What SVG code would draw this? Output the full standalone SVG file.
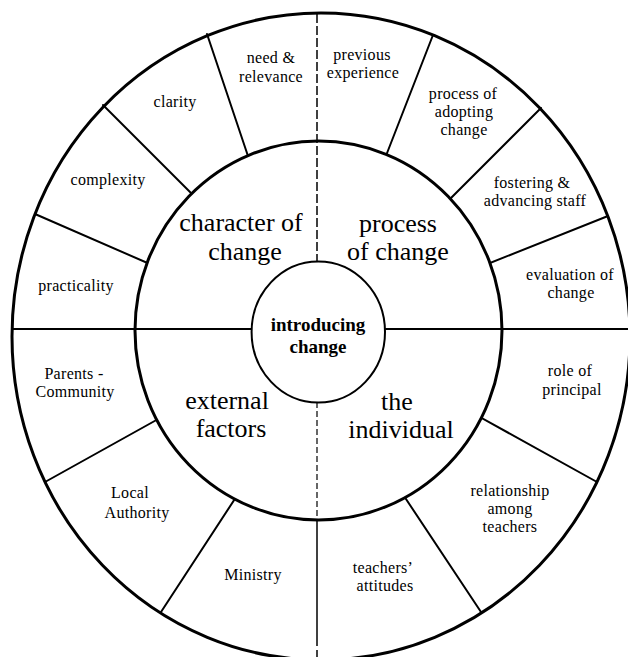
<svg xmlns="http://www.w3.org/2000/svg" width="628" height="657" viewBox="0 0 628 657">
  <style>
    .ring { fill: #fff; stroke: #000; stroke-width: 3; }
    .hub { fill: #fff; stroke: #000; stroke-width: 2; }
    .spoke { stroke: #000; stroke-width: 2; fill: none; stroke-linecap: round; }
    .axis { stroke: #000; stroke-width: 2; fill: none; }
    .vdash { stroke: #000; stroke-width: 1.5; fill: none; stroke-dasharray: 9 3; }
    .vdash2 { stroke: #000; stroke-width: 1.2; fill: none; stroke-dasharray: 6 3; }
    .vsolid { stroke: #000; stroke-width: 1.5; fill: none; }
    text { font-family: "Liberation Serif", "DejaVu Serif", serif; fill: #000; text-anchor: middle; }
    .item { font-size: 16px; letter-spacing: 0.3px; }
    .area { font-size: 26px; }
    .core { font-size: 19px; font-weight: bold; }
  </style>

  <!-- wheel outline, spokes and axes -->
  <g id="connectors">
    <ellipse class="ring" cx="321" cy="336.5" rx="309" ry="323.5"/>
    <g id="spokes">
      <line class="spoke" x1="207" y1="34" x2="251" y2="165"/>
      <line class="spoke" x1="103" y1="105" x2="200" y2="202"/>
      <line class="spoke" x1="35" y1="214" x2="159" y2="268"/>
      <line class="spoke" x1="433" y1="35" x2="382" y2="166"/>
      <line class="spoke" x1="541" y1="108" x2="442" y2="207"/>
      <line class="spoke" x1="608" y1="216" x2="480" y2="267"/>
      <line class="spoke" x1="45" y1="482" x2="169" y2="413"/>
      <line class="spoke" x1="161" y1="612" x2="242" y2="488"/>
      <line class="spoke" x1="597" y1="482" x2="469" y2="411"/>
      <line class="spoke" x1="481" y1="612" x2="398" y2="487"/>
    </g>
    <ellipse class="ring" cx="318.5" cy="330.5" rx="183.5" ry="189.5"/>
    <line class="axis" x1="12" y1="329" x2="252" y2="329"/>
    <line class="axis" x1="384" y1="329" x2="628" y2="329"/>
    <line class="vdash" x1="317" y1="14" x2="317" y2="262"/>
    <line class="vdash2" x1="317" y1="402" x2="317" y2="520"/>
    <line class="vsolid" x1="317" y1="520" x2="317" y2="646"/>
    <line class="vsolid" x1="317" y1="650" x2="317" y2="657"/>
  </g>

  <g id="hub">
    <ellipse class="hub" cx="318.3" cy="332" rx="66.7" ry="70.5"/>
    <text class="core" x="318" y="331">introducing</text>
    <text class="core" x="318" y="353">change</text>
  </g>

  <g id="character-of-change">
    <text class="area" x="241" y="231">character of</text>
    <text class="area" x="245" y="260">change</text>
  </g>
  <g id="process-of-change">
    <text class="area" x="398" y="232">process</text>
    <text class="area" x="398" y="260">of change</text>
  </g>
  <g id="external-factors">
    <text class="area" x="227" y="409">external</text>
    <text class="area" x="231" y="437">factors</text>
  </g>
  <g id="the-individual">
    <text class="area" x="397" y="410">the</text>
    <text class="area" x="401" y="438">individual</text>
  </g>

  <g id="need-relevance">
    <text class="item" x="271" y="63">need &amp;</text>
    <text class="item" x="271" y="82">relevance</text>
  </g>
  <g id="clarity">
    <text class="item" x="175" y="107">clarity</text>
  </g>
  <g id="complexity">
    <text class="item" x="108" y="185">complexity</text>
  </g>
  <g id="practicality">
    <text class="item" x="76" y="291">practicality</text>
  </g>
  <g id="previous-experience">
    <text class="item" x="362" y="60">previous</text>
    <text class="item" x="363" y="78">experience</text>
  </g>
  <g id="process-of-adopting-change">
    <text class="item" x="463" y="99">process of</text>
    <text class="item" x="464" y="117">adopting</text>
    <text class="item" x="464" y="135">change</text>
  </g>
  <g id="fostering-advancing-staff">
    <text class="item" x="532" y="188">fostering &amp;</text>
    <text class="item" x="535" y="206">advancing staff</text>
  </g>
  <g id="evaluation-of-change">
    <text class="item" x="570" y="280">evaluation of</text>
    <text class="item" x="571" y="298">change</text>
  </g>
  <g id="parents-community">
    <text class="item" x="74" y="379">Parents -</text>
    <text class="item" x="75" y="397">Community</text>
  </g>
  <g id="local-authority">
    <text class="item" x="130" y="498">Local</text>
    <text class="item" x="137" y="518">Authority</text>
  </g>
  <g id="ministry">
    <text class="item" x="253" y="580">Ministry</text>
  </g>
  <g id="role-of-principal">
    <text class="item" x="570" y="376">role of</text>
    <text class="item" x="572" y="395">principal</text>
  </g>
  <g id="relationship-among-teachers">
    <text class="item" x="510" y="496">relationship</text>
    <text class="item" x="510" y="514">among</text>
    <text class="item" x="510" y="532">teachers</text>
  </g>
  <g id="teachers-attitudes">
    <text class="item" x="383" y="573">teachers’</text>
    <text class="item" x="385" y="591">attitudes</text>
  </g>
</svg>
